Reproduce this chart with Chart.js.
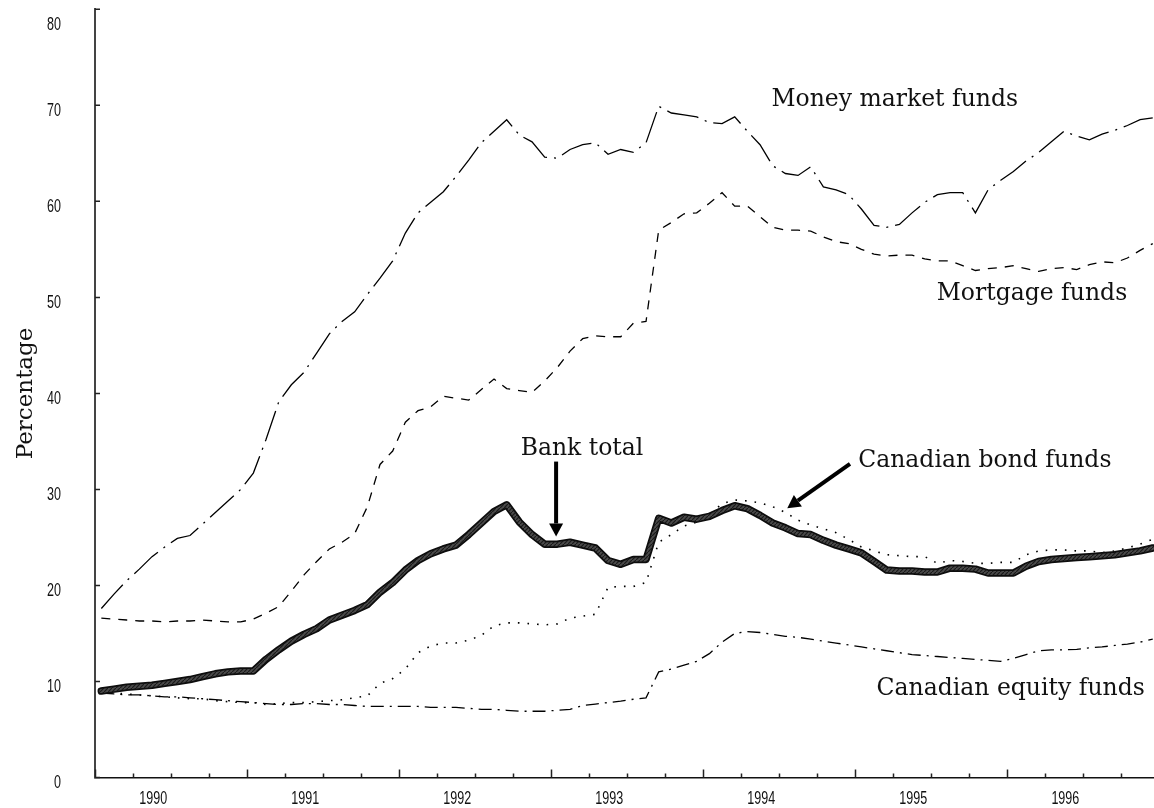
<!DOCTYPE html>
<html>
<head>
<meta charset="utf-8">
<title>Bank share of mutual fund assets</title>
<script src="https://cdn.jsdelivr.net/npm/chart.js@4.4.0/dist/chart.umd.min.js"></script>
<style>
    html, body { margin: 0; padding: 0; background: #fff; }
    #wrap { width: 1154px; height: 808px; }
</style>
</head>
<body>
<div id="wrap"><canvas id="bankChart" width="1154" height="808"></canvas></div>
<script>
// Monthly observations, one point per month (84 months)
const monthPos = Array.from({ length: 84 }, (_, i) => i + 0.5);

const bankTotal = [
    9.0, 9.2, 9.4, 9.5, 9.6, 9.8, 10.0, 10.2, 10.5, 10.8,
    11.0, 11.1, 11.1, 12.3, 13.3, 14.2, 14.9, 15.5, 16.4, 16.9,
    17.4, 18.0, 19.3, 20.3, 21.6, 22.6, 23.3, 23.8, 24.2, 25.3,
    26.5, 27.7, 28.4, 26.6, 25.3, 24.3, 24.3, 24.5, 24.2, 23.9,
    22.6, 22.2, 22.7, 22.7, 27.0, 26.5, 27.1, 26.9, 27.2, 27.8,
    28.3, 28.0, 27.3, 26.5, 26.0, 25.4, 25.3, 24.7, 24.2, 23.8,
    23.4, 22.5, 21.6, 21.5, 21.5, 21.4, 21.4, 21.8, 21.8, 21.7,
    21.3, 21.3, 21.3, 22.0, 22.5, 22.7, 22.8, 22.9, 23.0, 23.1,
    23.2, 23.4, 23.6, 23.9
];

const moneyMarket = [
    17.6, 19.1, 20.5, 21.7, 23.0, 24.0, 24.9, 25.2, 26.4, 27.6,
    28.8, 30.0, 31.7, 35.2, 39.1, 40.9, 42.2, 44.2, 46.2, 47.5,
    48.5, 50.3, 52.0, 53.8, 56.7, 58.8, 59.9, 61.0, 62.6, 64.3,
    66.1, 67.3, 68.5, 66.9, 66.2, 64.6, 64.5, 65.4, 65.9, 66.1,
    64.9, 65.4, 65.1, 66.1, 69.9, 69.2, 69.0, 68.8, 68.2, 68.1,
    68.8, 67.3, 65.9, 63.7, 62.9, 62.7, 63.6, 61.5, 61.2, 60.7,
    59.2, 57.5, 57.3, 57.6, 58.8, 59.9, 60.7, 60.9, 60.9, 58.8,
    61.2, 62.2, 63.1, 64.2, 65.1, 66.2, 67.3, 66.8, 66.4, 67.0,
    67.4, 67.9, 68.5, 68.7
];

const mortgage = [
    16.6, 16.5, 16.4, 16.3, 16.3, 16.2, 16.3, 16.3, 16.4, 16.3,
    16.2, 16.2, 16.5, 17.1, 17.8, 19.4, 21.1, 22.5, 23.8, 24.5,
    25.4, 28.2, 32.6, 34.0, 37.0, 38.2, 38.6, 39.7, 39.5, 39.3,
    40.4, 41.5, 40.5, 40.3, 40.1, 41.3, 42.7, 44.4, 45.7, 46.0,
    45.9, 45.9, 47.3, 47.5, 57.0, 57.8, 58.7, 58.8, 59.8, 60.9,
    59.5, 59.5, 58.4, 57.3, 57.0, 57.0, 56.9, 56.3, 55.8, 55.6,
    55.0, 54.5, 54.3, 54.4, 54.4, 54.0, 53.8, 53.8, 53.3, 52.8,
    53.0, 53.1, 53.3, 53.0, 52.7, 53.0, 53.1, 52.9, 53.4, 53.7,
    53.6, 54.1, 54.9, 55.6
];

const bondFunds = [
    8.9, 8.8, 8.7, 8.6, 8.5, 8.4, 8.3, 8.2, 8.2, 8.0,
    7.9, 7.8, 7.8, 7.6, 7.7, 7.8, 7.8, 7.9, 8.0, 8.1,
    8.3, 8.5, 9.8, 10.3, 11.3, 13.0, 13.7, 14.0, 14.0, 14.3,
    14.8, 15.8, 16.1, 16.1, 16.0, 15.9, 16.0, 16.6, 16.8, 17.0,
    19.8, 19.9, 19.9, 20.3, 24.5, 25.3, 26.2, 26.6, 27.4, 28.5,
    28.9, 28.8, 28.6, 28.2, 27.6, 26.8, 26.3, 25.9, 25.5, 24.8,
    24.0, 23.6, 23.2, 23.1, 23.0, 23.0, 22.3, 22.6, 22.5, 22.3,
    22.3, 22.4, 22.4, 23.2, 23.6, 23.7, 23.7, 23.6, 23.6, 23.4,
    23.6, 23.9, 24.3, 24.8
];

const equityFunds = [
    8.8, 8.7, 8.6, 8.6, 8.5, 8.4, 8.4, 8.3, 8.2, 8.1,
    8.0, 7.9, 7.8, 7.7, 7.6, 7.6, 7.7, 7.7, 7.6, 7.6,
    7.5, 7.4, 7.4, 7.4, 7.4, 7.4, 7.3, 7.3, 7.3, 7.2,
    7.1, 7.1, 7.0, 6.9, 6.9, 6.9, 7.0, 7.1, 7.5, 7.65,
    7.8, 7.95, 8.15, 8.3, 11.0, 11.3, 11.7, 12.1, 12.9, 14.1,
    15.0, 15.2, 15.1, 14.9, 14.7, 14.6, 14.4, 14.2, 14.0, 13.8,
    13.6, 13.4, 13.2, 13.0, 12.8, 12.7, 12.6, 12.5, 12.4, 12.3,
    12.2, 12.1, 12.4, 12.8, 13.2, 13.3, 13.3, 13.35, 13.5, 13.6,
    13.75, 13.9, 14.1, 14.4
];

const yearLabels = ['1990', '1991', '1992', '1993', '1994', '1995', '1996'];
const yTickValues = [0, 10, 20, 30, 40, 50, 60, 70, 80];

// Label and arrow placement, in data units (month, percent)
const seriesNotes = [
    { text: 'Money market funds', at: [53.4, 69.9] },
    { text: 'Mortgage funds', at: [66.45, 49.7] },
    { text: 'Bank total', at: [33.6, 33.6] },
    { text: 'Canadian bond funds', at: [60.25, 32.3] },
    { text: 'Canadian equity funds', at: [61.7, 8.6] }
];
const noteArrows = [
    { from: [36.4, 32.9], to: [36.4, 25.1] },
    { from: [59.6, 32.66], to: [54.65, 28.04] }
];

const tickFont = "19px 'Liberation Sans', Arial, sans-serif";
const serifFont = "'DejaVu Serif', serif";

// Stripy fill for the thick bank total line
function makeHatch(ctx) {
    const c = document.createElement('canvas');
    c.width = 4; c.height = 4;
    const p = c.getContext('2d');
    p.fillStyle = '#4a4a4a';
    p.fillRect(0, 0, 4, 4);
    p.strokeStyle = '#1a1a1a';
    p.lineWidth = 1.2;
    p.beginPath();
    p.moveTo(0, 4); p.lineTo(4, 0);
    p.stroke();
    return ctx.createPattern(c, 'repeat');
}

// condensed tick text (the original uses a narrow sans)
function narrowText(ctx, text, x, y, align) {
    ctx.save();
    ctx.translate(x, y);
    ctx.scale(0.66, 1);
    ctx.textAlign = align;
    ctx.fillText(text, 0, 0);
    ctx.restore();
}

// Inward tick marks and narrow tick labels, like the original print chart
const axisTicks = {
    id: 'axisTicks',
    afterDraw(chart) {
        const { ctx, scales: { x, y } } = chart;
        ctx.save();
        ctx.strokeStyle = '#222';
        ctx.lineWidth = 1.5;
        ctx.beginPath();
        yTickValues.forEach(v => {
            const py = y.getPixelForValue(v);
            ctx.moveTo(x.left, py);
            ctx.lineTo(x.left + 5, py);
        });
        for (let m = 0; m <= 83; m += 3) {
            const px = Math.round(x.getPixelForValue(m)) + 0.5;
            const len = m % 12 === 0 ? 8 : 4;
            ctx.moveTo(px, y.bottom);
            ctx.lineTo(px, y.bottom - len);
        }
        ctx.stroke();

        ctx.fillStyle = '#111';
        ctx.font = tickFont;
        ctx.textBaseline = 'alphabetic';
        yTickValues.forEach(v => {
            const base = Math.max(y.getPixelForValue(v) + 10.2, 30);
            narrowText(ctx, String(v), x.left - 34, base, 'right');
        });
        x.ticks.forEach((t, i) => {
            narrowText(ctx, yearLabels[i], x.getPixelForValue(t.value), y.bottom + 26.5, 'center');
        });
        ctx.restore();
    }
};

const notes = {
    id: 'notes',
    afterDatasetsDraw(chart) {
        const { ctx, scales: { x, y } } = chart;
        ctx.save();
        ctx.fillStyle = '#111';
        ctx.font = '23.5px ' + serifFont;
        ctx.textAlign = 'left';
        ctx.textBaseline = 'alphabetic';
        seriesNotes.forEach(n => {
            ctx.fillText(n.text, x.getPixelForValue(n.at[0]), y.getPixelForValue(n.at[1]));
        });

        noteArrows.forEach(a => {
            const x1 = x.getPixelForValue(a.from[0]), y1 = y.getPixelForValue(a.from[1]);
            const x2 = x.getPixelForValue(a.to[0]), y2 = y.getPixelForValue(a.to[1]);
            const ang = Math.atan2(y2 - y1, x2 - x1);
            const head = 13, half = 7;
            const bx = x2 - head * Math.cos(ang), by = y2 - head * Math.sin(ang);
            ctx.strokeStyle = '#000';
            ctx.lineWidth = 4;
            ctx.beginPath();
            ctx.moveTo(x1, y1);
            ctx.lineTo(bx, by);
            ctx.stroke();
            ctx.fillStyle = '#000';
            ctx.beginPath();
            ctx.moveTo(x2, y2);
            ctx.lineTo(bx + half * Math.sin(ang), by - half * Math.cos(ang));
            ctx.lineTo(bx - half * Math.sin(ang), by + half * Math.cos(ang));
            ctx.closePath();
            ctx.fill();
        });
        ctx.restore();
    }
};

const canvas = document.getElementById('bankChart');
const thinLine = { borderColor: '#000', borderWidth: 1.3, pointRadius: 0, tension: 0, fill: false };

new Chart(canvas, {
    type: 'line',
    data: {
        labels: monthPos,
        datasets: [
            { label: 'Bank total', data: bankTotal, borderColor: makeHatch(canvas.getContext('2d')),
              borderWidth: 4, pointRadius: 0, tension: 0, borderJoinStyle: 'round', borderCapStyle: 'round' },
            { label: 'Bank total edge', data: bankTotal, borderColor: '#0d0d0d',
              borderWidth: 7.5, pointRadius: 0, tension: 0, borderJoinStyle: 'round', borderCapStyle: 'round' },
            { ...thinLine, label: 'Canadian bond funds', data: bondFunds, borderWidth: 1.6, borderDash: [1.6, 8] },
            { ...thinLine, label: 'Canadian equity funds', data: equityFunds, borderDash: [13, 6, 2, 6] },
            { ...thinLine, label: 'Mortgage funds', data: mortgage, borderDash: [9, 8] },
            { ...thinLine, label: 'Money market funds', data: moneyMarket, borderDash: [32, 7, 2, 7] }
        ]
    },
    options: {
        responsive: false,
        animation: false,
        layout: { padding: { top: 9.3, right: 0, bottom: 0, left: 0 } },
        plugins: {
            legend: { display: false },
            tooltip: { enabled: false }
        },
        scales: {
            x: {
                type: 'linear',
                min: 0,
                max: 83.6,
                grid: { display: false, drawTicks: false },
                border: { display: true, color: '#111', width: 1.6 },
                afterBuildTicks(axis) {
                    axis.ticks = yearLabels.map((_, i) => ({ value: 4.6 + 12 * i }));
                },
                afterFit(axis) {
                    axis.height = 30.5;
                    axis.paddingLeft = 0;
                    axis.paddingRight = 0;
                },
                ticks: { display: false, autoSkip: false }
            },
            y: {
                min: 0,
                max: 80,
                grid: { display: false, drawTicks: false },
                border: { display: true, color: '#444', width: 2 },
                afterFit(axis) {
                    axis.width = 95;
                    axis.paddingTop = 0;
                    axis.paddingBottom = 0;
                },
                title: {
                    display: true,
                    text: 'Percentage',
                    color: '#111',
                    font: { family: serifFont, size: 23 },
                    padding: { top: 12.5, bottom: 0 }
                },
                ticks: { display: false, stepSize: 10 }
            }
        }
    },
    plugins: [axisTicks, notes]
});
</script>
</body>
</html>
